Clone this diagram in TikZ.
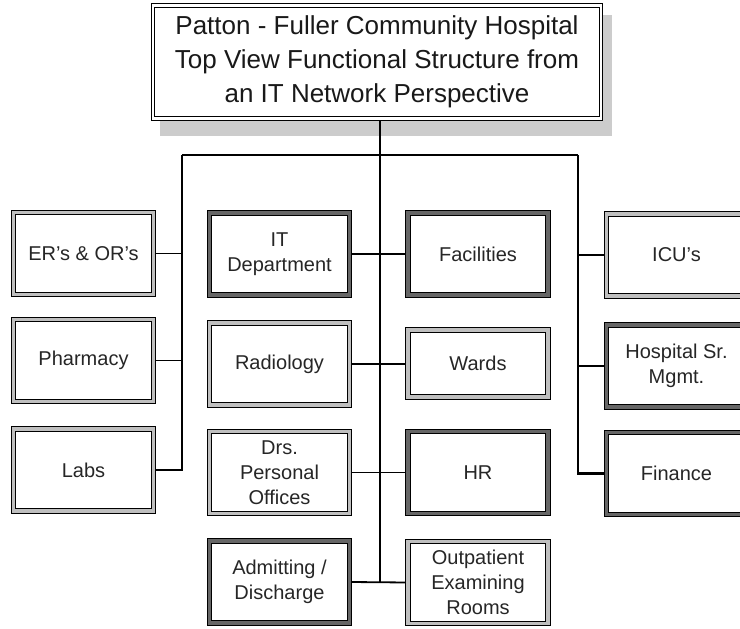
\documentclass[tikz,border=0pt]{standalone}
\usepackage{fontspec}
\setmainfont{Liberation Sans}
\usetikzlibrary{backgrounds}
\begin{document}
\begin{tikzpicture}[x=1pt,y=-1pt,
  box/.style={draw=black, line width=0.9pt, double=gray!50, double distance=3.6pt,
    fill=white, minimum width=140pt, minimum height=82pt, inner sep=2pt, align=center,
    font=\fontsize{20}{25}\selectfont, text=black!85},
  darkbox/.style={box, double=black!60},
  titlebox/.style={draw=black, line width=1.2pt, double=white, double distance=2.5pt,
    fill=white, minimum width=448pt, minimum height=113pt, align=center,
    font=\fontsize{26}{34}\selectfont, text=black!90},
  trunk/.style={line width=2.6pt},
  branch/.style={line width=1.8pt}]
\useasboundingbox (0,0) rectangle (740,629);

% title
\node[titlebox] (title) at (377,62)
  {Patton - Fuller Community Hospital\\Top View Functional Structure from\\an IT Network Perspective};

% column 1
\node[box] (er)  at (83.5,253.5) {ER's \& OR's};
\node[box] (ph)  at (83.5,360.5) {Pharmacy};
\node[box] (lab) at (83.5,470)   {Labs};
% column 2
\node[darkbox] (it)  at (279.5,254) {IT\\Department};
\node[box]     (rad) at (279.5,364) {Radiology};
\node[box]     (drs) at (279.5,472.5) {Drs.\\Personal\\Offices};
\node[darkbox] (adm) at (279.5,582) {Admitting /\\Discharge};
% column 3
\node[darkbox] (fac) at (478,254) {Facilities};
\node[box, minimum height=67pt] (war) at (478,363.5) {Wards};
\node[darkbox] (hr)  at (478,472.5) {HR};
\node[box]     (out) at (478,582.5) {Outpatient\\Examining\\Rooms};
% column 4
\node[box]     (icu) at (676.5,255) {ICU's};
\node[darkbox] (hsm) at (676.5,366) {Hospital Sr.\\Mgmt.};
\node[darkbox] (fin) at (676.5,473.5) {Finance};

\coordinate (hL) at (182,155);
\coordinate (hR) at (578,155);
\coordinate (cB) at (380,582);

\begin{scope}[on background layer]
  \fill[gray!40] (160,15) rectangle (612,136);
  \draw[trunk] (hL) -- (hR);
  \draw[trunk] (title.south -| cB) -- (cB);
  \draw[trunk] (hL) |- (lab.east);
  \draw[trunk] (hR) |- (fin.west);
  \draw[branch] (er.east) -- (er.east -| hL);
  \draw[branch] (ph.east) -- (ph.east -| hL);
  \draw[branch] (icu.west) -- (icu.west -| hR);
  \draw[branch] (hsm.west) -- (hsm.west -| hR);
  \draw[branch] (it.east) -- (fac.west);
  \draw[branch] (rad.east) -- (rad.east -| war.west);
  \draw[branch] (drs.east) -- (hr.west);
  \draw[branch] (adm.east) -- (out.west);
\end{scope}
\end{tikzpicture}
\end{document}
